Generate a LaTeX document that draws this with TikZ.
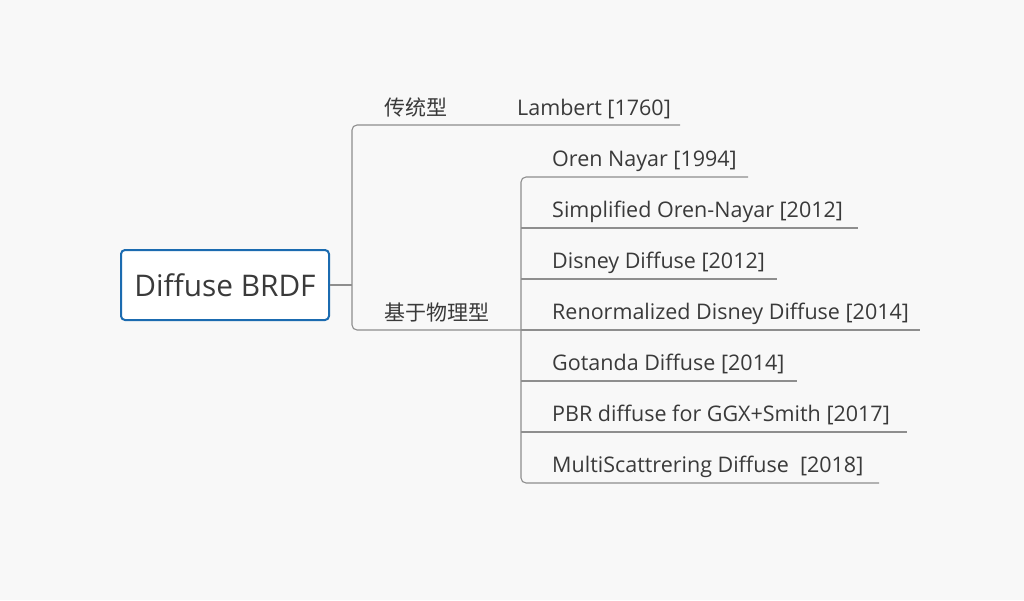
\documentclass[tikz,border=0pt]{standalone}
\usepackage{fontspec}
\setmainfont{Open Sans}
\newfontfamily\cjk{Noto Sans CJK SC}
\definecolor{bgc}{HTML}{F8F8F8}
\definecolor{txt}{HTML}{3A3A3A}
\definecolor{linec}{HTML}{8E8E8E}
\definecolor{rootc}{HTML}{1B6BB0}
\tikzset{
  rootbox/.style={draw=rootc, line width=2pt, fill=white, rounded corners=4pt,
    minimum width=208pt, minimum height=70pt, inner sep=0pt, text=txt,
    font=\fontsize{29.8}{35}\selectfont},
  leaf/.style={anchor=base west, inner sep=0pt, text=txt, font=\fontsize{21.5}{25}\selectfont},
  cat/.style={anchor=base west, inner sep=0pt, text=txt, font=\cjk\fontsize{21}{25}\selectfont},
  conn/.style={draw=linec, line width=1.1pt, rounded corners=5pt},
}
\begin{document}
\begin{tikzpicture}[x=1pt,y=-1pt]
\fill[bgc] (0,0) rectangle (1024,600);
\useasboundingbox (0,0) rectangle (1024,600);

\node[rootbox] (root) at (225,285) {Diffuse BRDF};

% category labels
\node[cat] (trad) at (384,115) {传统型};
\node[cat] (phys) at (384,320) {基于物理型};

% leaves
\node[leaf] (lam) at (517,115) {Lambert [1760]};
\node[leaf] (l1) at (552,166) {Oren Nayar [1994]};
\node[leaf] (l2) at (552,217) {Simplified Oren-Nayar [2012]};
\node[leaf] (l3) at (552,268) {Disney Diffuse [2012]};
\node[leaf] (l4) at (552,319) {Renormalized Disney Diffuse [2014]};
\node[leaf] (l5) at (552,370) {Gotanda Diffuse [2014]};
\node[leaf] (l6) at (552,421) {PBR diffuse for GGX+Smith [2017]};
\node[leaf] (l7) at (552,472) {MultiScattrering Diffuse\ \ [2018]};

% coordinates of the connector paths
\coordinate (j0) at (352,285);
\coordinate (jt) at (352,125);
\coordinate (jb) at (352,330);
\coordinate (lamend) at (680,125);
\coordinate (k1) at (521,177);
\coordinate (k2) at (521,228);
\coordinate (k3) at (521,279);
\coordinate (k4) at (521,330);
\coordinate (k5) at (521,381);
\coordinate (k6) at (521,432);
\coordinate (k7) at (521,483);
\coordinate (e1) at (748,177);
\coordinate (e2) at (858,228);
\coordinate (e3) at (777,279);
\coordinate (e4) at (920,330);
\coordinate (e5) at (797,381);
\coordinate (e6) at (907,432);
\coordinate (e7) at (879,483);

\draw[conn] (root.east) -- (j0);
\draw[conn] (lamend) -- (jt) -- (jb) -- (k4);
\draw[conn] (e1) -- (k1) -- (k7) -- (e7);
\draw[conn] (k2) -- (e2);
\draw[conn] (k3) -- (e3);
\draw[conn] (k4) -- (e4);
\draw[conn] (k5) -- (e5);
\draw[conn] (k6) -- (e6);
\end{tikzpicture}
\end{document}
